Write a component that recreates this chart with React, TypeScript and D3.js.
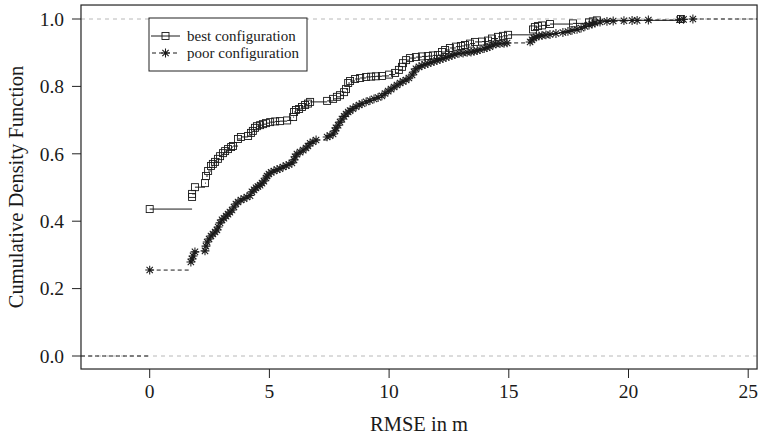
import React from "react";
import * as d3 from "d3";

// ECDF knots: RMSE (m) and cumulative fraction
const bestX = [0, 1.77, 1.77, 1.89, 2.31, 2.35, 2.44, 2.56, 2.64, 2.73, 2.85, 2.94, 3.06, 3.15, 3.27, 3.40, 3.48, 3.69, 3.81, 4.11, 4.23, 4.31, 4.40, 4.48, 4.61, 4.73, 4.86, 5.03, 5.24, 5.44, 5.74, 5.99, 6.03, 6.11, 6.24, 6.36, 6.49, 6.61, 6.70, 7.41, 7.66, 7.82, 7.95, 8.12, 8.20, 8.29, 8.37, 8.58, 8.79, 9.04, 9.25, 9.45, 9.70, 10.00, 10.25, 10.41, 10.54, 10.58, 10.71, 10.87, 11.12, 11.37, 11.62, 11.83, 12.04, 12.21, 12.34, 12.54, 12.79, 13.00, 13.17, 13.38, 13.59, 13.88, 14.13, 14.30, 14.55, 14.76, 14.97, 16.01, 16.09, 16.22, 16.39, 16.72, 17.68, 18.35, 18.51, 18.68, 22.19];
const bestF = [0.436, 0.472, 0.481, 0.501, 0.513, 0.534, 0.549, 0.564, 0.570, 0.576, 0.585, 0.593, 0.602, 0.608, 0.614, 0.620, 0.623, 0.644, 0.650, 0.653, 0.662, 0.668, 0.677, 0.682, 0.685, 0.688, 0.691, 0.694, 0.696, 0.697, 0.699, 0.709, 0.724, 0.730, 0.733, 0.739, 0.745, 0.749, 0.754, 0.757, 0.763, 0.769, 0.774, 0.783, 0.792, 0.810, 0.816, 0.822, 0.825, 0.828, 0.829, 0.830, 0.831, 0.835, 0.840, 0.849, 0.858, 0.869, 0.878, 0.884, 0.887, 0.889, 0.890, 0.892, 0.893, 0.902, 0.908, 0.914, 0.918, 0.920, 0.923, 0.927, 0.932, 0.933, 0.936, 0.942, 0.947, 0.950, 0.953, 0.969, 0.976, 0.979, 0.981, 0.985, 0.987, 0.990, 0.993, 0.996, 1.0];

const poorX = [0, 1.72, 1.77, 1.81, 1.89, 2.31, 2.35, 2.40, 2.48, 2.56, 2.64, 2.73, 2.81, 2.86, 2.94, 3.02, 3.10, 3.19, 3.27, 3.35, 3.44, 3.52, 3.60, 3.69, 3.81, 3.94, 4.06, 4.19, 4.27, 4.36, 4.44, 4.52, 4.61, 4.69, 4.77, 4.86, 4.90, 4.98, 5.07, 5.19, 5.32, 5.44, 5.57, 5.70, 5.82, 5.94, 6.03, 6.07, 6.15, 6.28, 6.41, 6.53, 6.61, 6.70, 6.82, 6.95, 7.41, 7.53, 7.66, 7.74, 7.78, 7.87, 7.95, 8.03, 8.12, 8.20, 8.29, 8.37, 8.49, 8.62, 8.75, 8.87, 9.04, 9.20, 9.37, 9.54, 9.70, 9.83, 9.96, 10.08, 10.21, 10.33, 10.46, 10.58, 10.71, 10.83, 10.96, 11.04, 11.12, 11.25, 11.37, 11.50, 11.62, 11.75, 11.88, 12.00, 12.13, 12.25, 12.38, 12.50, 12.63, 12.75, 12.92, 13.09, 13.26, 13.42, 13.55, 13.68, 13.80, 13.97, 14.09, 14.21, 14.34, 14.47, 14.63, 14.80, 14.93, 15.89, 15.97, 16.05, 16.14, 16.26, 16.39, 16.55, 16.72, 16.97, 17.26, 17.47, 17.64, 17.85, 18.02, 18.18, 18.35, 18.48, 18.60, 18.81, 19.10, 19.36, 19.81, 20.15, 20.36, 20.83, 22.13, 22.30, 22.69];
const poorF = [0.255, 0.279, 0.288, 0.297, 0.309, 0.312, 0.326, 0.338, 0.347, 0.356, 0.362, 0.368, 0.374, 0.383, 0.395, 0.404, 0.409, 0.415, 0.421, 0.427, 0.433, 0.442, 0.451, 0.457, 0.463, 0.467, 0.472, 0.476, 0.487, 0.493, 0.499, 0.503, 0.507, 0.513, 0.519, 0.528, 0.534, 0.540, 0.545, 0.549, 0.553, 0.556, 0.561, 0.565, 0.568, 0.573, 0.582, 0.591, 0.599, 0.605, 0.611, 0.617, 0.623, 0.631, 0.636, 0.641, 0.650, 0.654, 0.659, 0.668, 0.677, 0.685, 0.694, 0.703, 0.711, 0.718, 0.724, 0.728, 0.734, 0.740, 0.745, 0.749, 0.754, 0.758, 0.763, 0.767, 0.772, 0.779, 0.786, 0.792, 0.798, 0.804, 0.810, 0.815, 0.819, 0.825, 0.834, 0.843, 0.852, 0.858, 0.862, 0.865, 0.868, 0.871, 0.874, 0.877, 0.880, 0.883, 0.886, 0.889, 0.892, 0.895, 0.898, 0.899, 0.901, 0.902, 0.904, 0.906, 0.909, 0.912, 0.915, 0.918, 0.923, 0.926, 0.927, 0.928, 0.929, 0.932, 0.938, 0.944, 0.947, 0.950, 0.951, 0.953, 0.954, 0.957, 0.960, 0.963, 0.966, 0.969, 0.973, 0.978, 0.982, 0.985, 0.988, 0.991, 0.993, 0.994, 0.995, 0.9955, 0.996, 0.997, 0.998, 0.999, 1.0];

const xTicks = [0, 5, 10, 15, 20, 25];
const yTicks = [0.0, 0.2, 0.4, 0.6, 0.8, 1.0];
const seriesNames = ["best configuration", "poor configuration"];
const xTitle = "RMSE in m";
const yTitle = "Cumulative Density Function";

const FONT = "'Liberation Serif', 'Times New Roman', Times, serif";
const INK = "#1a1a1a";

function Square({ cx, cy }: { cx: number; cy: number }) {
  const s = 3.5;
  return <rect x={cx - s} y={cy - s} width={2 * s} height={2 * s} fill="none" stroke={INK} strokeWidth={0.9} />;
}

function Star({ cx, cy }: { cx: number; cy: number }) {
  const r = 4.4;
  const d = r * 0.72;
  return (
    <path
      d={`M${cx - r},${cy}H${cx + r}M${cx},${cy - r}V${cy + r}M${cx - d},${cy - d}L${cx + d},${cy + d}M${cx - d},${cy + d}L${cx + d},${cy - d}`}
      stroke={INK}
      strokeWidth={1.05}
      fill="none"
    />
  );
}

export default function App() {
  const W = 760;
  const H = 440;
  const x = d3.scaleLinear().domain([0, 25]).range([149.7, 748.2]);
  const y = d3.scaleLinear().domain([0, 1]).range([356, 19]);
  const xLo = -2.87, xHi = 25.37, yLo = -0.0386, yHi = 1.0415;
  const L = x(xLo), R = x(xHi), T = y(yHi), B = y(yLo);

  const best = d3.zip(bestX, bestF) as [number, number][];
  const poor = d3.zip(poorX, poorF) as [number, number][];

  const stepPath = (pts: [number, number][], leftTail: boolean, rightTail: boolean) => {
    const p = d3.path();
    if (leftTail) {
      p.moveTo(L, y(0));
      p.lineTo(x(pts[0][0]), y(0));
    }
    for (let i = 0; i < pts.length - 1; i++) {
      p.moveTo(x(pts[i][0]), y(pts[i][1]));
      p.lineTo(x(pts[i + 1][0]), y(pts[i][1]));
    }
    if (rightTail) {
      const last = pts[pts.length - 1];
      p.moveTo(x(last[0]), y(last[1]));
      p.lineTo(R, y(last[1]));
    }
    return p.toString();
  };

  const legX = 149, legY = 18, legW = 158, legH = 53;

  return (
    <svg width={W} height={H} style={{ position: "absolute", left: 0, top: 0, background: "#fff" }} fontFamily={FONT}>
      {[0, 1].map((v) => (
        <line key={v} x1={L} x2={R} y1={y(v)} y2={y(v)} stroke="#b8b8b8" strokeWidth={1} strokeDasharray="4,4" />
      ))}

      <path d={stepPath(best, false, false)} stroke={INK} strokeWidth={1} fill="none" />
      {best.map((d, i) => (
        <Square key={"b" + i} cx={x(d[0])} cy={y(d[1])} />
      ))}

      <path d={stepPath(poor, true, true)} stroke={INK} strokeWidth={1} fill="none" strokeDasharray="4,3" />
      {poor.map((d, i) => (
        <Star key={"p" + i} cx={x(d[0])} cy={y(d[1])} />
      ))}

      <rect x={L} y={T} width={R - L} height={B - T} fill="none" stroke="#222" strokeWidth={1.2} />

      {xTicks.map((t) => (
        <g key={t}>
          <line x1={x(t)} x2={x(t)} y1={B} y2={B + 9} stroke="#222" strokeWidth={1} />
          <text x={x(t)} y={B + 29} fontSize={19.5} textAnchor="middle" fill="#1a1a1a">
            {t}
          </text>
        </g>
      ))}
      <text x={(L + R) / 2} y={431} fontSize={20.5} textAnchor="middle" fill="#1a1a1a">
        {xTitle}
      </text>

      {yTicks.map((t) => (
        <g key={t}>
          <line x1={L - 9} x2={L} y1={y(t)} y2={y(t)} stroke="#222" strokeWidth={1} />
          <text x={64} y={y(t)} dy="0.35em" fontSize={19.5} textAnchor="end" fill="#1a1a1a">
            {t.toFixed(1)}
          </text>
        </g>
      ))}
      <text transform={`translate(23,${(T + B) / 2}) rotate(-90)`} fontSize={20.5} textAnchor="middle" fill="#1a1a1a">
        {yTitle}
      </text>

      <rect x={legX} y={legY} width={legW} height={legH} fill="#fff" stroke="#222" strokeWidth={1} />
      <line x1={151} x2={180} y1={36} y2={36} stroke={INK} strokeWidth={1} />
      <Square cx={165.5} cy={36} />
      <line x1={151} x2={180} y1={53} y2={53} stroke={INK} strokeWidth={1} strokeDasharray="4,3" strokeDashoffset={-1} />
      <Star cx={165.5} cy={53} />
      <text x={187} y={36} dy="0.33em" fontSize={15} fill="#1a1a1a">
        {seriesNames[0]}
      </text>
      <text x={187} y={53} dy="0.33em" fontSize={15} fill="#1a1a1a">
        {seriesNames[1]}
      </text>
    </svg>
  );
}
